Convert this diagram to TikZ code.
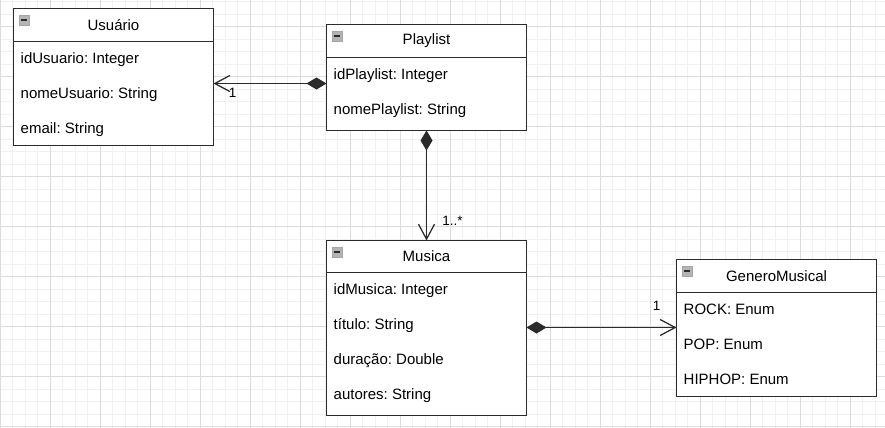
\documentclass[tikz,border=0pt]{standalone}
\usepackage{fontspec}
\setmainfont{Liberation Sans}
\usetikzlibrary{arrows.meta, positioning, calc}
\frenchspacing

\definecolor{linecol}{HTML}{2B2B2B}
\definecolor{minorgrid}{HTML}{F1F1F1}
\definecolor{majorgrid}{HTML}{DCDCDC}
\definecolor{iconfill}{HTML}{B4B4B4}

\tikzset{
  classhead/.style={draw=linecol, line width=1.25bp, fill=white, anchor=north west,
    minimum width=200bp, minimum height=33bp, inner sep=0pt, outer sep=0pt,
    font=\fontsize{15bp}{18bp}\selectfont},
  classbody/.style={draw=linecol, line width=1.25bp, fill=white, anchor=north west,
    minimum width=200bp, inner sep=0pt, outer sep=0pt},
  attr/.style={anchor=base west, inner sep=0pt, font=\fontsize{15bp}{18bp}\selectfont},
  collapse/.style={draw=gray!70, fill=iconfill, line width=0.5bp, minimum size=9.5bp,
    inner sep=0pt, outer sep=0pt, anchor=north west,
    path picture={\draw[linecol, line width=1.6bp]
      ([xshift=1.8bp]path picture bounding box.west) --
      ([xshift=-1.8bp]path picture bounding box.east);}},
  compose/.style={draw=linecol, line width=1.25bp,
    {Diamond[length=20bp, width=12bp]}-{Straight Barb[length=15bp, width=16bp]}},
  mult/.style={inner sep=0pt, font=\fontsize{13.5bp}{16bp}\selectfont},
}

\begin{document}
\begin{tikzpicture}[x=1bp, y=-1bp]
  \useasboundingbox (0,0) rectangle (885,427);
  % background grid
  \fill[white] (0,0) rectangle (885,427);
  \begin{scope}[shift={(0,26.7)}]
    \draw[minorgrid, line width=0.8bp, step=12.5bp] (0,-30) grid (885,410);
    \draw[majorgrid, line width=0.8bp, step=50bp] (0,-30) grid (885,410);
  \end{scope}

  % classes
  \node[classhead] (usuario-head) at (13.5,8.5) {Usuário};
  \node[classbody, minimum height=104bp] (usuario-body) at (usuario-head.south west) {};
  \node[collapse] (usuario-icon) at ($(usuario-head.north west)+(6,7)$) {};
  \foreach \txt [count=\i] in {idUsuario: Integer, nomeUsuario: String, email: String}
    \node[attr] (usuario-\i) at ($(usuario-body.north west)+(7,22+35*\i-35)$) {\txt};

  \node[classhead] (playlist-head) at (326.5,24.5) {Playlist};
  \node[classbody, minimum height=73bp] (playlist-body) at (playlist-head.south west) {};
  \node[collapse] (playlist-icon) at ($(playlist-head.north west)+(6,7)$) {};
  \foreach \txt [count=\i] in {idPlaylist: Integer, nomePlaylist: String}
    \node[attr] (playlist-\i) at ($(playlist-body.north west)+(7,22+35*\i-35)$) {\txt};

  \node[classhead, minimum height=32bp] (musica-head) at (326.5,240.5) {Musica};
  \node[classbody, minimum height=143bp] (musica-body) at (musica-head.south west) {};
  \node[collapse] (musica-icon) at ($(musica-head.north west)+(6,7)$) {};
  \foreach \txt [count=\i] in {idMusica: Integer, título: String, duração: Double, autores: String}
    \node[attr] (musica-\i) at ($(musica-body.north west)+(7,22+35*\i-35)$) {\txt};

  \node[classhead] (genero-head) at (676.5,259.5) {GeneroMusical};
  \node[classbody, minimum height=104bp] (genero-body) at (genero-head.south west) {};
  \node[collapse] (genero-icon) at ($(genero-head.north west)+(6,7)$) {};
  \foreach \txt [count=\i] in {ROCK: Enum, POP: Enum, HIPHOP: Enum}
    \node[attr] (genero-\i) at ($(genero-body.north west)+(7,22+35*\i-35)$) {\txt};

  % associations
  \coordinate (pl-start) at ($(playlist-body.north west)+(0,26)$);
  \draw[compose] (pl-start) -- (pl-start -| usuario-body.east)
    node[mult, at end, shift={(19bp,-9bp)}] (usuario-mult) {1};

  \draw[compose] (playlist-body.south) -- (musica-head.north)
    node[mult, at end, shift={(26bp,20bp)}] (musica-mult) {1..*};

  \coordinate (mu-start) at ($(musica-body.north east)+(0,55)$);
  \draw[compose] (mu-start) -- (mu-start -| genero-body.west)
    node[mult, at end, shift={(-20bp,22bp)}] (genero-mult) {1};
\end{tikzpicture}
\end{document}
